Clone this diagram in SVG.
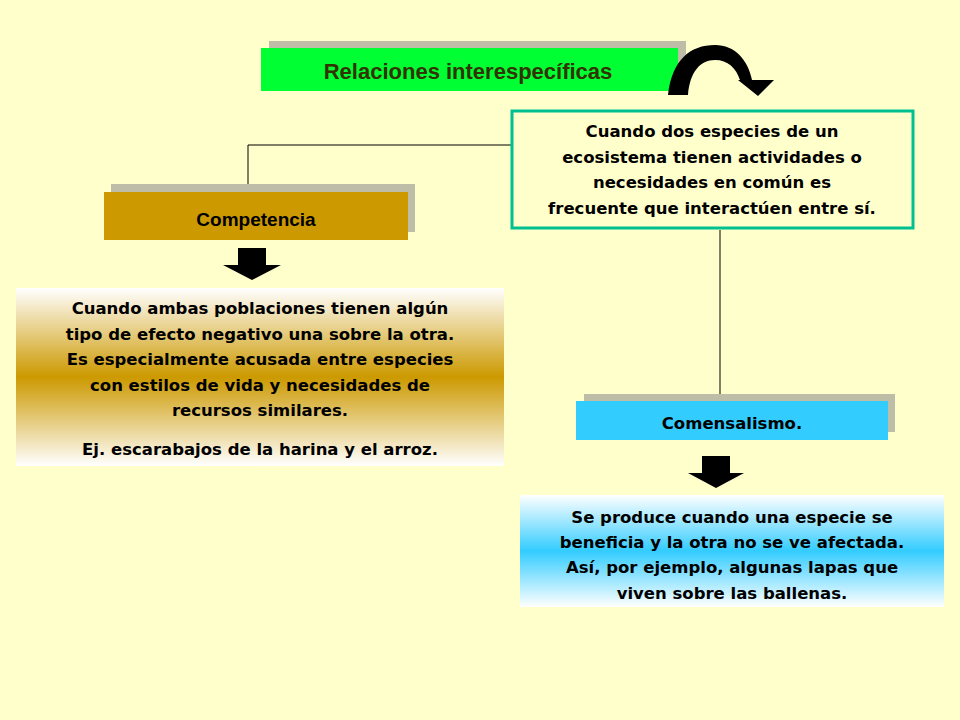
<svg xmlns="http://www.w3.org/2000/svg" width="960" height="720" viewBox="0 0 960 720">
<defs>
<linearGradient id="gg" x1="0" y1="0" x2="0" y2="1"><stop offset="0" stop-color="#fff"/><stop offset="0.5" stop-color="#cc9900"/><stop offset="1" stop-color="#fff"/></linearGradient>
<linearGradient id="gb" x1="0" y1="0" x2="0" y2="1"><stop offset="0" stop-color="#fff"/><stop offset="0.5" stop-color="#33ccff"/><stop offset="1" stop-color="#fff"/></linearGradient>
<style>
.b{font-family:"DejaVu Sans",Verdana,sans-serif;font-weight:bold;font-size:16.5px;text-anchor:middle;fill:#000}
.h{font-family:"Liberation Sans",Arial,sans-serif;font-weight:bold;text-anchor:middle}
.sh{fill:#bdbda8}
</style>
</defs>
<rect width="960" height="720" fill="#ffffcc"/>
<g id="connectors" stroke="#000" fill="none" stroke-width="1">
<polyline points="512,145 248,145 248,192"/>
<line x1="720" y1="230" x2="720" y2="402"/>
</g>
<g id="title">
<rect class="sh" x="269" y="41" width="417" height="44"/>
<rect x="261" y="48" width="417" height="43" fill="#00ff33"/>
<text class="h" x="468" y="79" font-size="22" fill="#333300">Relaciones interespecíficas</text>
</g>
<g id="curved-arrow">
<path d="M668,95 C672,60 690,45 715,45 C735,45 748,60 752,80 L740,80 C736,68 728,60 715,60 C700,60 690,72 688,95 Z" fill="#000"/>
<polygon points="738,80 774,80 758,96" fill="#000"/>
</g>
<g id="intro">
<rect x="512" y="111" width="401" height="117" fill="#ffffcc" stroke="#00c090" stroke-width="3"/>
<text class="b" x="712" y="137">Cuando dos especies de un</text>
<text class="b" x="712" y="163">ecosistema tienen actividades o</text>
<text class="b" x="712" y="188">necesidades en común es</text>
<text class="b" x="712" y="214">frecuente que interactúen entre sí.</text>
</g>
<g id="competencia">
<rect class="sh" x="111" y="184" width="304" height="48"/>
<rect x="104" y="192" width="304" height="48" fill="#cc9900"/>
<text class="h" x="256" y="226" font-size="19" fill="#000">Competencia</text>
</g>
<g id="arrow-left"><rect x="238" y="248" width="28" height="17"/><polygon points="223,265 281,265 252,280"/></g>
<g id="competencia-desc">
<rect x="16" y="288" width="488" height="178" fill="url(#gg)"/>
<text class="b" x="260" y="314">Cuando ambas poblaciones tienen algún</text>
<text class="b" x="260" y="340">tipo de efecto negativo una sobre la otra.</text>
<text class="b" x="260" y="365">Es especialmente acusada entre especies</text>
<text class="b" x="260" y="391">con estilos de vida y necesidades de</text>
<text class="b" x="260" y="416">recursos similares.</text>
<text class="b" x="260" y="455">Ej. escarabajos de la harina y el arroz.</text>
</g>
<g id="comensalismo">
<rect class="sh" x="584" y="394" width="311" height="38"/>
<rect x="576" y="401" width="312" height="39" fill="#33ccff"/>
<text class="b" x="732" y="429" font-size="19">Comensalismo.</text>
</g>
<g id="arrow-right"><rect x="702" y="456" width="28" height="17"/><polygon points="688,473 744,473 716,488"/></g>
<g id="comensalismo-desc">
<rect x="520" y="495" width="424" height="112" fill="url(#gb)"/>
<text class="b" x="732" y="523">Se produce cuando una especie se</text>
<text class="b" x="732" y="548">beneficia y la otra no se ve afectada.</text>
<text class="b" x="732" y="573">Así, por ejemplo, algunas lapas que</text>
<text class="b" x="732" y="599">viven sobre las ballenas.</text>
</g>
</svg>
